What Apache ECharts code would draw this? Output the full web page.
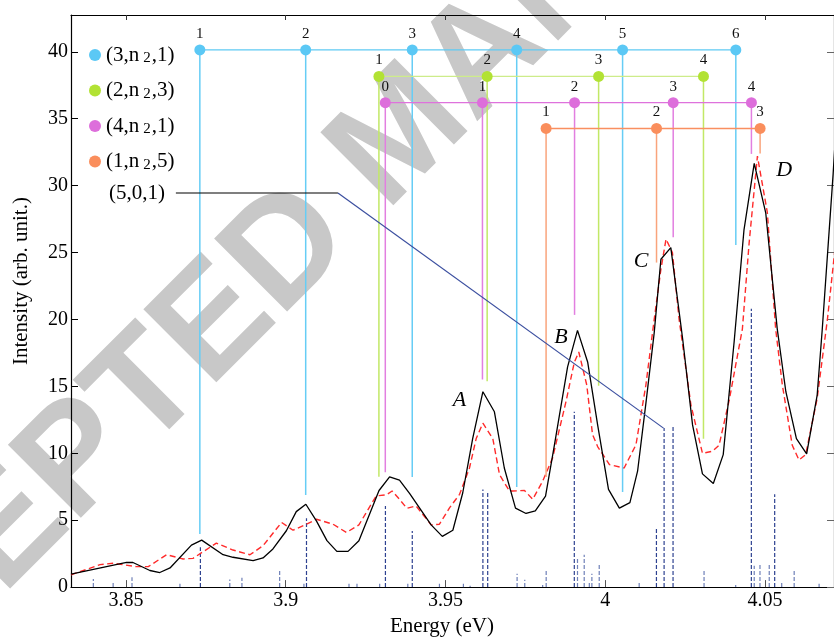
<!DOCTYPE html>
<html><head><meta charset="utf-8">
<script src="https://cdn.jsdelivr.net/npm/echarts@6/dist/echarts.min.js"></script>
<style>html,body{margin:0;padding:0;background:#fff}#c{width:834px;height:642px}</style>
</head><body><div id="c"></div>
<script>
// ---------- data ----------
const xTicks = [3.85, 3.9, 3.95, 4, 4.05];
const yTicks = [0, 5, 10, 15, 20, 25, 30, 35, 40];

// measured spectrum (black solid)
const expE = [3.8328,3.8502,3.8522,3.8575,3.8606,3.8638,3.8705,3.8737,3.8804,3.8835,3.8898,3.8929,3.8960,3.9002,3.9033,3.9063,3.9096,3.9129,3.9160,3.9195,3.9229,3.9292,3.9325,3.9356,3.9388,3.9455,3.9490,3.9523,3.9554,3.9585,3.9617,3.9653,3.9684,3.9719,3.9752,3.9781,3.9813,3.9841,3.9882,3.9913,3.9945,3.9976,4.0010,4.0044,4.0077,4.0101,4.0127,4.0153,4.0174,4.0205,4.0242,4.0273,4.0304,4.0338,4.0369,4.0403,4.0434,4.0466,4.0502,4.0538,4.0565,4.0598,4.0630,4.0663,4.0679,4.0713,4.0731];
const expI = [0.97,1.85,1.84,1.24,1.09,1.43,3.14,3.51,2.42,2.23,1.98,2.18,2.85,4.21,5.64,6.19,4.95,3.47,2.67,2.67,3.47,7.22,8.24,8.0,6.98,4.65,3.79,4.25,7.05,11.1,14.6,13.1,8.9,5.9,5.5,5.69,6.8,10.64,16.46,19.18,16.8,12.12,7.3,5.9,6.31,8.66,13.73,19.0,24.5,25.37,18.56,12.12,8.46,7.74,9.9,18.3,26.7,31.67,27.97,19.3,14.6,11.1,9.95,14.35,19.3,30.9,38];

// calculated spectrum (red dashed)
const fitE = [3.8328,3.8419,3.8460,3.8533,3.8570,3.8627,3.8679,3.8710,3.8783,3.8835,3.8888,3.8929,3.8987,3.9023,3.9065,3.9096,3.9148,3.9190,3.9229,3.9283,3.9315,3.9333,3.9356,3.9379,3.9408,3.9455,3.9481,3.9513,3.9544,3.9575,3.9596,3.9617,3.9648,3.9669,3.9700,3.9710,3.9747,3.9773,3.9804,3.9835,3.9877,3.9903,3.9917,3.9942,3.9960,3.9976,4.0013,4.0059,4.0096,4.0127,4.0153,4.0174,4.0190,4.0210,4.0231,4.0268,4.0304,4.0335,4.0356,4.0388,4.0429,4.0450,4.0476,4.0507,4.0533,4.0554,4.0585,4.0606,4.0627,4.0663,4.0695,4.0731];
const fitI = [0.91,1.68,1.78,1.53,1.53,2.42,2.10,2.15,3.29,2.77,2.42,3.09,4.83,4.25,4.70,5.07,4.70,4.08,4.65,6.81,6.90,7.18,6.56,5.89,6.06,4.65,4.70,5.94,6.93,8.9,11.1,12.25,11.1,8.4,7.18,7.18,7.22,6.56,7.92,9.65,13.86,16.8,17.57,15.1,11.4,10.5,9.15,8.9,10.64,15.1,20.0,23.75,26.0,25.0,20.0,13.6,10.0,10.15,10.6,14.0,19.3,25.7,32.2,28.0,19.3,15.1,10.6,9.5,9.9,14.1,20.0,28];

// transition sticks (blue dashed)
const stickE = [3.8398,3.8460,3.8519,3.8669,3.8733,3.8825,3.8863,3.8981,3.9057,3.9065,3.9198,3.9223,3.9294,3.9312,3.9382,3.9396,3.9481,3.9556,3.9577,3.9617,3.9632,3.9724,3.9748,3.9804,3.9815,3.9903,3.9913,3.9934,3.9950,3.9958,3.9981,4.0106,4.0160,4.0184,4.0212,4.0309,4.0408,4.0457,4.0466,4.0484,4.0513,4.0530,4.0552,4.0591,4.0669];
const stickH = [0.6,0.3,0.74,0.25,2.97,0.57,0.7,1.24,0.25,5.15,0.25,0.25,0.25,6.06,0.25,4.2,0.25,0.25,0.1,7.3,7.05,0.99,0.55,0.15,1.24,13.1,2.2,2.42,0.3,1.0,1.69,0.3,4.45,11.88,12.0,1.2,0.15,20.8,1.6,1.7,1.8,6.93,0.3,1.2,0.25];

// level series
const levelNames = ['(3,n2,1)', '(2,n2,3)', '(4,n2,1)', '(1,n2,5)'];
const levelRich = ['(3,n{s|2},1)', '(2,n{s|2},3)', '(4,n{s|2},1)', '(1,n{s|2},5)'];
const levelY = [40.14, 38.16, 36.2, 34.27];
const cyanE = [3.87313, 3.90625, 3.93959, 3.97228, 4.00541, 4.04084];
const cyanN = ['1', '2', '3', '4', '5', '6'];
const cyanEnd = [3.96, 6.88, 8.22, 7.48, 7.1, 25.56];
const greenE = [3.92916, 3.96303, 3.99791, 4.03072];
const greenN = ['1', '2', '3', '4'];
const greenEnd = [8.24, 15.39, 15.05, 11.08];
const magentaE = [3.93116, 3.96156, 3.99038, 4.02125, 4.04572];
const magentaN = ['0', '1', '2', '3', '4'];
const magentaEnd = [8.58, 15.52, 20.34, 26.15, 32.37];
const orangeE = [3.98147, 4.01603, 4.04844];
const orangeN = ['1', '2', '3'];
const orangeEnd = [8.22, 24.25, 32.4];

// (5,0,1) pointer
const tagText = '(5,0,1)';
const tagTextE = 3.85344, tagY = 29.45;
const tagLineE = [3.86563, 3.91634];
const tagArrowEnd = [4.01822, 11.88];

// peak letters
const peakNames = ['A', 'B', 'C', 'D'];
const peakE = [3.95438, 3.98615, 4.01116, 4.05594];
const peakI = [13.98, 18.69, 24.37, 31.18];

// ---------- chart ----------
const SERIF = '"Liberation Serif", "Times New Roman", serif';
const dotColors = ['#5bc8f5', '#b2e234', '#dd6edb', '#fa8e5c'];
const hColors = ['#5ecaf3', '#cdec8a', '#de72dc', '#f98f60'];
const vColors = ['#66cdf5', '#c2e866', '#e27fe0', '#f9a47c'];
const groups = [
  [cyanE, cyanN, cyanEnd], [greenE, greenN, greenEnd],
  [magentaE, magentaN, magentaEnd], [orangeE, orangeN, orangeEnd]
];

const series = [];
series.push({
  type: 'custom', name: 'sticks', silent: true, z: 1,
  data: stickE.map((e, i) => [e, stickH[i]]),
  encode: { x: 0, y: 1 },
  renderItem: (params, api) => {
    const h = api.value(1);
    const p0 = api.coord([api.value(0), 0]);
    const p1 = api.coord([api.value(0), h]);
    return { type: 'line', shape: { x1: p0[0], y1: p0[1], x2: p1[0], y2: p1[1] },
      style: { stroke: h > 2.5 ? '#2e4291' : '#6f80b8', lineWidth: 1.2, lineDash: [4, 2] } };
  }
});
series.push({
  type: 'line', name: 'calc', data: fitE.map((e, i) => [e, fitI[i]]),
  showSymbol: false, symbol: 'none', silent: true, z: 3,
  lineStyle: { color: '#ff2a2a', width: 1.4, type: [6, 3.5] }
});
series.push({
  type: 'line', name: 'exp', data: expE.map((e, i) => [e, expI[i]]),
  showSymbol: false, symbol: 'none', silent: true, z: 4,
  lineStyle: { color: '#000', width: 1.3 }
});
groups.forEach((g, k) => {
  const [E, N, End] = g;
  series.push({
    type: 'custom', name: 'drop' + k, silent: true, z: 5,
    data: E.map((e, i) => [e, levelY[k], End[i]]),
    encode: { x: 0, y: [1, 2] },
    renderItem: (params, api) => {
      const p0 = api.coord([api.value(0), api.value(1)]);
      const p1 = api.coord([api.value(0), api.value(2)]);
      return { type: 'line', shape: { x1: p0[0], y1: p0[1], x2: p1[0], y2: p1[1] },
        style: { stroke: vColors[k], lineWidth: 1.5 } };
    }
  });
  series.push({
    type: 'line', name: 'h' + k, silent: true, z: 5, symbol: 'none', showSymbol: false,
    data: [[E[0], levelY[k]], [E[E.length - 1], levelY[k]]],
    lineStyle: { color: hColors[k], width: 1.3 }
  });
  series.push({
    type: 'scatter', name: levelNames[k], z: 6, symbol: 'circle', symbolSize: 11,
    itemStyle: { color: dotColors[k], opacity: 1 },
    data: E.map((e, i) => [e, levelY[k], N[i]]),
    label: { show: true, position: 'top', distance: 3, formatter: p => p.value[2],
      color: '#111', fontFamily: SERIF, fontSize: 15 }
  });
});
series.push({
  type: 'line', name: 'tagline', silent: true, z: 5, symbol: 'none', showSymbol: false,
  data: tagLineE.map(e => [e, tagY]), lineStyle: { color: '#000', width: 1.2 }
});
series.push({
  type: 'line', name: 'tagarrow', silent: true, z: 5, symbol: 'none', showSymbol: false,
  data: [[tagLineE[1], tagY], tagArrowEnd], lineStyle: { color: '#3a4e9f', width: 1.2 }
});
series.push({
  type: 'scatter', name: 'tagtext', silent: true, z: 6, symbolSize: 0,
  itemStyle: { opacity: 1 },
  data: [[tagTextE, tagY, tagText]],
  label: { show: true, position: 'inside', formatter: p => p.value[2], color: '#000', opacity: 1, fontFamily: SERIF, fontSize: 21 }
});
series.push({
  type: 'scatter', name: 'peaks', silent: true, z: 6, symbolSize: 0,
  itemStyle: { opacity: 1 },
  data: peakE.map((e, i) => [e, peakI[i], peakNames[i]]),
  label: { show: true, position: 'inside', formatter: p => p.value[2], color: '#000', opacity: 1, fontFamily: SERIF, fontSize: 22, fontStyle: 'italic' }
});

const axisCommon = {
  axisLine: { show: true, onZero: false, lineStyle: { color: '#000', width: 1.2 } },
  splitLine: { show: false }
};
const option = {
  animation: false,
  backgroundColor: '#fff',
  textStyle: { fontFamily: SERIF },
  grid: { left: 71, top: 15, right: -1, bottom: 52.5, containLabel: false },
  graphic: [{
    type: 'text', x: -256, y: 796, rotation: Math.PI / 4, z: -10, silent: true,
    style: { text: 'ACCEPTED MANUSCRIPT', font: 'bold 150px "Liberation Sans", Arial, sans-serif',
      fill: '#c8c8c8', align: 'left', verticalAlign: 'middle' }
  }],
  legend: {
    data: levelNames.map(n => ({ name: n, icon: 'circle' })),
    orient: 'vertical', left: 84, top: 39, itemWidth: 12, itemHeight: 12, itemGap: 13.5,
    selectedMode: false,
    formatter: name => levelRich[levelNames.indexOf(name)],
    textStyle: { fontFamily: SERIF, fontSize: 21, color: '#000', lineHeight: 22,
      rich: { s: { fontFamily: SERIF, fontSize: 15, lineHeight: 14, verticalAlign: 'bottom', padding: [0, 1, 0, 4], color: '#000' } } }
  },
  xAxis: [
    Object.assign({
      type: 'value', position: 'bottom', min: 3.8328125, max: 4.0715625,
      axisTick: { show: true, inside: true, length: 7, customValues: xTicks, lineStyle: { color: '#555' } },
      axisLabel: { customValues: xTicks, color: '#000', fontFamily: SERIF, fontSize: 20, margin: 4 },
      name: 'Energy (eV)', nameLocation: 'middle', nameGap: 19,
      nameTextStyle: { color: '#000', fontFamily: SERIF, fontSize: 21, padding: [0, 21, 0, 0] }
    }, axisCommon),
    Object.assign({
      type: 'value', position: 'top', min: 3.8328125, max: 4.0715625,
      axisTick: { show: true, inside: true, length: 5, customValues: xTicks, lineStyle: { color: '#333' } },
      axisLabel: { show: false }
    }, axisCommon)
  ],
  yAxis: [
    Object.assign({
      type: 'value', position: 'left', min: 0, max: 42.75,
      axisTick: { show: true, inside: true, length: 7, customValues: yTicks, lineStyle: { color: '#000' } },
      axisLabel: { customValues: yTicks, color: '#000', fontFamily: SERIF, fontSize: 20, margin: 3 },
      name: 'Intensity (arb. unit.)', nameLocation: 'middle', nameGap: 39, nameRotate: 90,
      nameTextStyle: { color: '#000', fontFamily: SERIF, fontSize: 21, padding: [0, 0, 0, 40] }
    }, axisCommon),
    Object.assign({
      type: 'value', position: 'right', min: 0, max: 42.75,
      axisTick: { show: true, inside: true, length: 7, customValues: yTicks, lineStyle: { color: '#666' } },
      axisLabel: { show: false }
    }, axisCommon)
  ],
  series: series
};
const chart = echarts.init(document.getElementById('c'), null, { renderer: 'canvas' });
chart.setOption(option);
</script></body></html>
